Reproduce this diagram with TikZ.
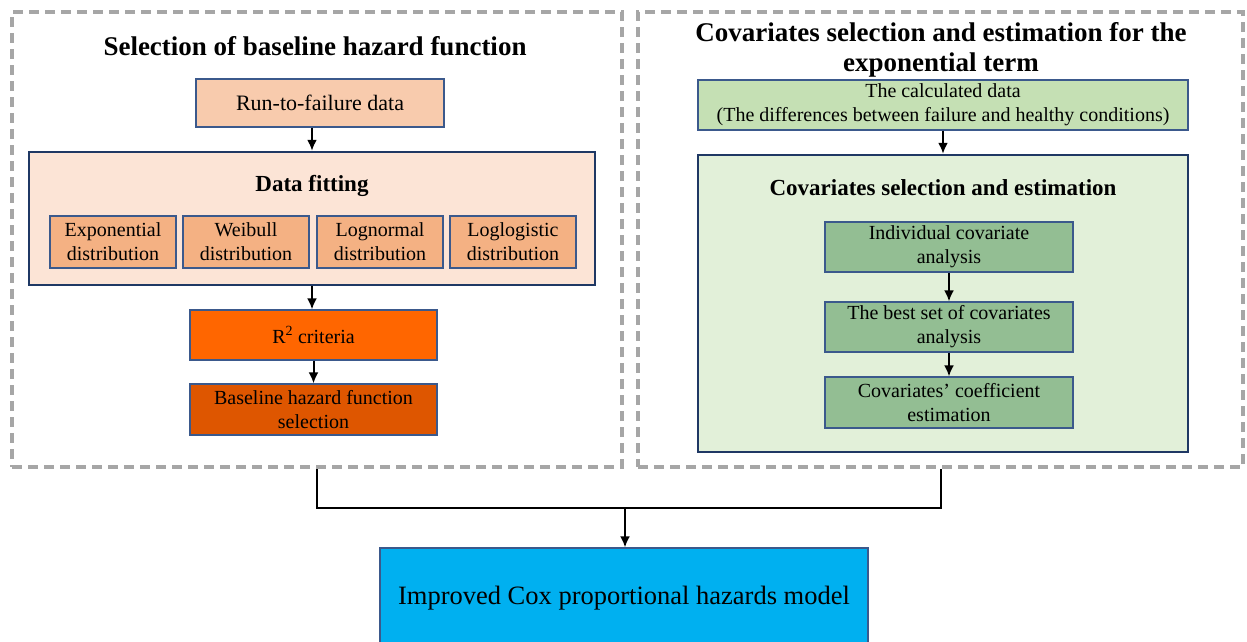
\documentclass[tikz,border=0pt]{standalone}
\usepackage{fontspec}
\setmainfont{Liberation Serif}
\usepackage{tikz}
\usetikzlibrary{positioning,arrows.meta}
\definecolor{dashgrey}{RGB}{166,166,166}
\definecolor{navy}{RGB}{31,56,100}
\definecolor{edgeblue}{RGB}{59,89,140}
\definecolor{peach}{RGB}{248,203,173}
\definecolor{lightpeach}{RGB}{252,228,214}
\definecolor{apricot}{RGB}{244,177,131}
\definecolor{brightorange}{RGB}{255,102,0}
\definecolor{burntorange}{RGB}{222,86,0}
\definecolor{palegreen}{RGB}{197,224,180}
\definecolor{mintgreen}{RGB}{226,240,217}
\definecolor{sagegreen}{RGB}{147,190,147}
\definecolor{skyblue}{RGB}{0,176,240}
\tikzset{
  dashframe/.style={draw=dashgrey,line width=4pt,dash pattern=on 10pt off 6pt},
  smallbox/.style={draw=edgeblue,line width=1.3pt,align=center,inner sep=1pt,font=\fontsize{20}{24}\selectfont},
  bigbox/.style={draw=navy,line width=2.5pt},
  headtext/.style={font=\bfseries\fontsize{27}{30}\selectfont,align=center},
  subhead/.style={font=\bfseries\fontsize{23}{26}\selectfont},
  flow/.style={-{Latex[length=11pt,width=10pt]},line width=2pt},
  joinline/.style={line width=2pt}
}
\begin{document}
\begin{tikzpicture}[x=1pt,y=-1pt]
\useasboundingbox (0,0) rectangle (1247,641);
% dashed frames
\node[dashframe,minimum width=610pt,minimum height=455pt] (framel) at (317,239.5) {};
\node[dashframe,minimum width=605pt,minimum height=455pt] (framer) at (940.5,239.5) {};
% left side: baseline hazard
\node[headtext] (titlel) at (315,46) {Selection of baseline hazard function};
\node[smallbox,fill=peach,minimum width=248pt,minimum height=48pt,font=\fontsize{22}{24}\selectfont] (runfail) at (320,103) {Run-to-failure data};
\node[bigbox,fill=lightpeach,minimum width=566pt,minimum height=133pt] (fitting) at (312,218.5) {};
\node[subhead] (fittitle) at (312,186) {Data fitting};
\node[smallbox,fill=apricot,minimum width=126pt,minimum height=52pt] (expo) at (113,242) {Exponential\\distribution};
\node[smallbox,fill=apricot,minimum width=126pt,minimum height=52pt] (weib) at (246,242) {Weibull\\distribution};
\node[smallbox,fill=apricot,minimum width=126pt,minimum height=52pt] (lognorm) at (380,242) {Lognormal\\distribution};
\node[smallbox,fill=apricot,minimum width=126pt,minimum height=52pt] (loglog) at (513,242) {Loglogistic\\distribution};
\node[smallbox,fill=brightorange,minimum width=247pt,minimum height=50pt] (rsq) at (313.5,335) {R\textsuperscript{2} criteria};
\node[smallbox,fill=burntorange,minimum width=247pt,minimum height=51pt] (basesel) at (313.5,409.5) {Baseline hazard function\\selection};
\draw[flow] (runfail.south -| fitting.north) -- (fitting.north);
\draw[flow] (fitting.south) -- (rsq.north -| fitting.south);
\draw[flow] (rsq) -- (basesel);
% right side: covariates
\node[headtext] (titler) at (941,50) {Covariates selection and estimation for the\\exponential term};
\node[smallbox,fill=palegreen,minimum width=490pt,minimum height=50pt,font=\fontsize{20}{24}\selectfont] (calc) at (943,105) {The calculated data\\(The differences between failure and healthy conditions)};
\node[bigbox,fill=mintgreen,minimum width=490pt,minimum height=297pt] (covsel) at (943,303.5) {};
\node[subhead] (covtitle) at (943,188) {Covariates selection and estimation};
\node[smallbox,fill=sagegreen,minimum width=248pt,minimum height=50pt] (indiv) at (949,247) {Individual covariate\\analysis};
\node[smallbox,fill=sagegreen,minimum width=248pt,minimum height=50pt] (bestset) at (949,327) {The best set of covariates\\analysis};
\node[smallbox,fill=sagegreen,minimum width=248pt,minimum height=51pt] (coef) at (949,402.5) {Covariates' coefficient\\estimation};
\draw[flow] (calc) -- (covsel);
\draw[flow] (indiv) -- (bestset);
\draw[flow] (bestset) -- (coef);
% joining both sides
\coordinate (join) at (625,508);
\node[draw=edgeblue,line width=1.3pt,fill=skyblue,minimum width=488pt,minimum height=100pt,font=\fontsize{26.5}{30}\selectfont] (model) at (624,598) {Improved Cox proportional hazards model};
\draw[joinline] (framel.south) |- (join) -| (framer.south);
\draw[flow] (join) -- (model.north -| join);
\end{tikzpicture}
\end{document}
